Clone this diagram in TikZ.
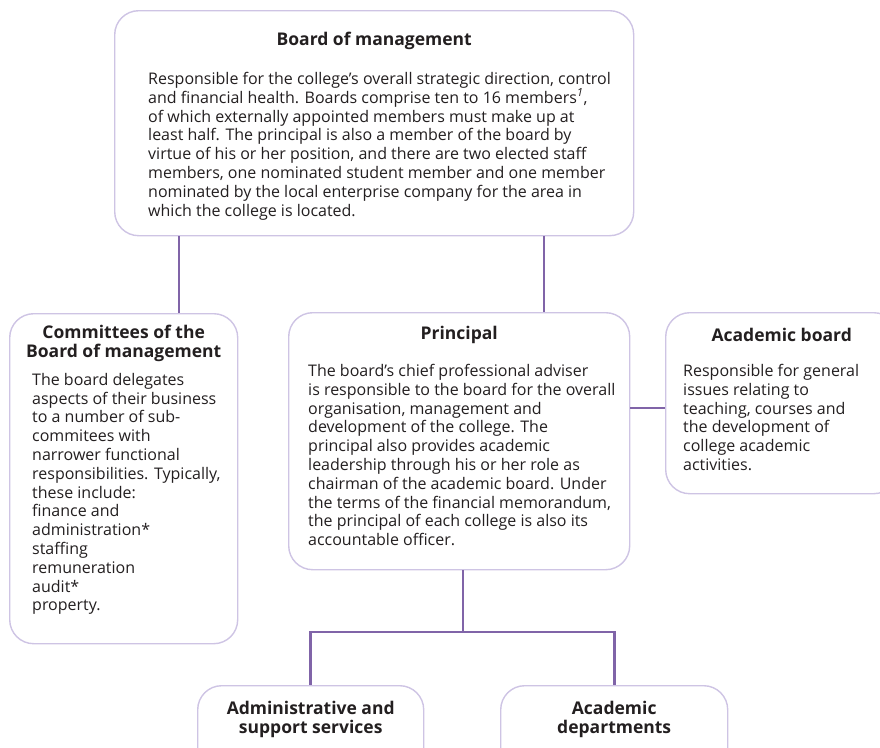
\documentclass[tikz,border=0pt]{standalone}
\usepackage{fontspec}
\setmainfont{Open Sans}
\usetikzlibrary{positioning}
\definecolor{boxline}{RGB}{206,196,228}
\definecolor{linkpurple}{RGB}{128,100,168}
\definecolor{textdark}{RGB}{35,31,32}
\tikzset{
  orgbox/.style={draw=boxline,line width=1.4pt,rounded corners=24pt,fill=white,anchor=north west,inner sep=0pt},
  boxtitle/.style={font=\fontsize{17.5}{19}\selectfont\bfseries,text=textdark,align=center,inner sep=0pt},
  boxtext/.style={font=\fontsize{16}{18.8}\selectfont,text=textdark,align=left,inner sep=0pt,anchor=north west},
  link/.style={draw=linkpurple,line width=2.6pt}
}
\begin{document}
\begin{tikzpicture}[x=1pt,y=-1pt]
    \useasboundingbox (0,0) rectangle (880,747);
    \clip (0,0) rectangle (880,747);
    \node[orgbox,minimum width=519pt,minimum height=225pt] (board) at (114,10) {};
    \node[orgbox,minimum width=228pt,minimum height=330pt] (committees) at (9,313) {};
    \node[orgbox,minimum width=341pt,minimum height=257pt] (principal) at (288,312) {};
    \node[orgbox,minimum width=232pt,minimum height=181pt] (acadboard) at (665,312) {};
    \node[orgbox,minimum width=226pt,minimum height=90pt] (admin) at (197,685) {};
    \node[orgbox,minimum width=227pt,minimum height=90pt] (acaddept) at (500,685) {};
    \node[boxtitle] (boardtitle) at ([yshift=-31pt]board.north) {Board of management};
    \node[boxtext] (boardtext) at ([xshift=34pt,yshift=-62pt]board.north west) {Responsible for the college’s overall strategic direction, control\\
        and financial health. Boards comprise ten to 16 members\textsuperscript{\itshape 1},\\
        of which externally appointed members must make up at\\
        least half. The principal is also a member of the board by\\
        virtue of his or her position, and there are two elected staff\\
        members, one nominated student member and one member\\
        nominated by the local enterprise company for the area in\\
        which the college is located.};
    \node[boxtitle] (committeestitle) at ([yshift=-30pt]committees.north) {Committees of the\\Board of management};
    \node[boxtext] (committeestext) at ([xshift=23pt,yshift=-60pt]committees.north west) {The board delegates\\
        aspects of their business\\to a number of sub-\\commitees with\\narrower functional\\
        responsibilities. Typically,\\these include:\\finance and\\administration*\\staffing\\
        remuneration\\audit*\\property.};
    \node[boxtitle] (principaltitle) at ([yshift=-23pt]principal.north) {Principal};
    \node[boxtext] (principaltext) at ([xshift=20pt,yshift=-52pt]principal.north west) {The board’s chief professional adviser\\
        is responsible to the board for the overall\\organisation, management and\\
        development of the college. The\\principal also provides academic\\
        leadership through his or her role as\\chairman of the academic board. Under\\
        the terms of the financial memorandum,\\the principal of each college is also its\\
        accountable officer.};
    \node[boxtitle] (acadboardtitle) at ([yshift=-23pt]acadboard.north) {Academic board};
    \node[boxtext] (acadboardtext) at ([xshift=18pt,yshift=-52pt]acadboard.north west) {Responsible for general\\
        issues relating to\\teaching, courses and\\the development of\\college academic\\activities.};
    \node[boxtitle] (admintitle) at ([yshift=-34pt]admin.north) {Administrative and\\support services};
    \node[boxtitle] (acaddepttitle) at ([yshift=-34pt]acaddept.north) {Academic\\departments};
    \coordinate (tapL) at (179,0);
    \coordinate (tapR) at (544,0);
    \coordinate (side) at (0,408);
    \coordinate (fork) at (463,632);
    \draw[link] (board.south -| tapL) -- (committees.north -| tapL);
    \draw[link] (board.south -| tapR) -- (principal.north -| tapR);
    \draw[link] (principal.east |- side) -- (acadboard.west |- side);
    \draw[link] (principal.south -| fork) -- (fork);
    \draw[link] (admin.north) -- (admin.north |- fork) -- (acaddept.north |- fork) -- (acaddept.north);
\end{tikzpicture}
\end{document}
